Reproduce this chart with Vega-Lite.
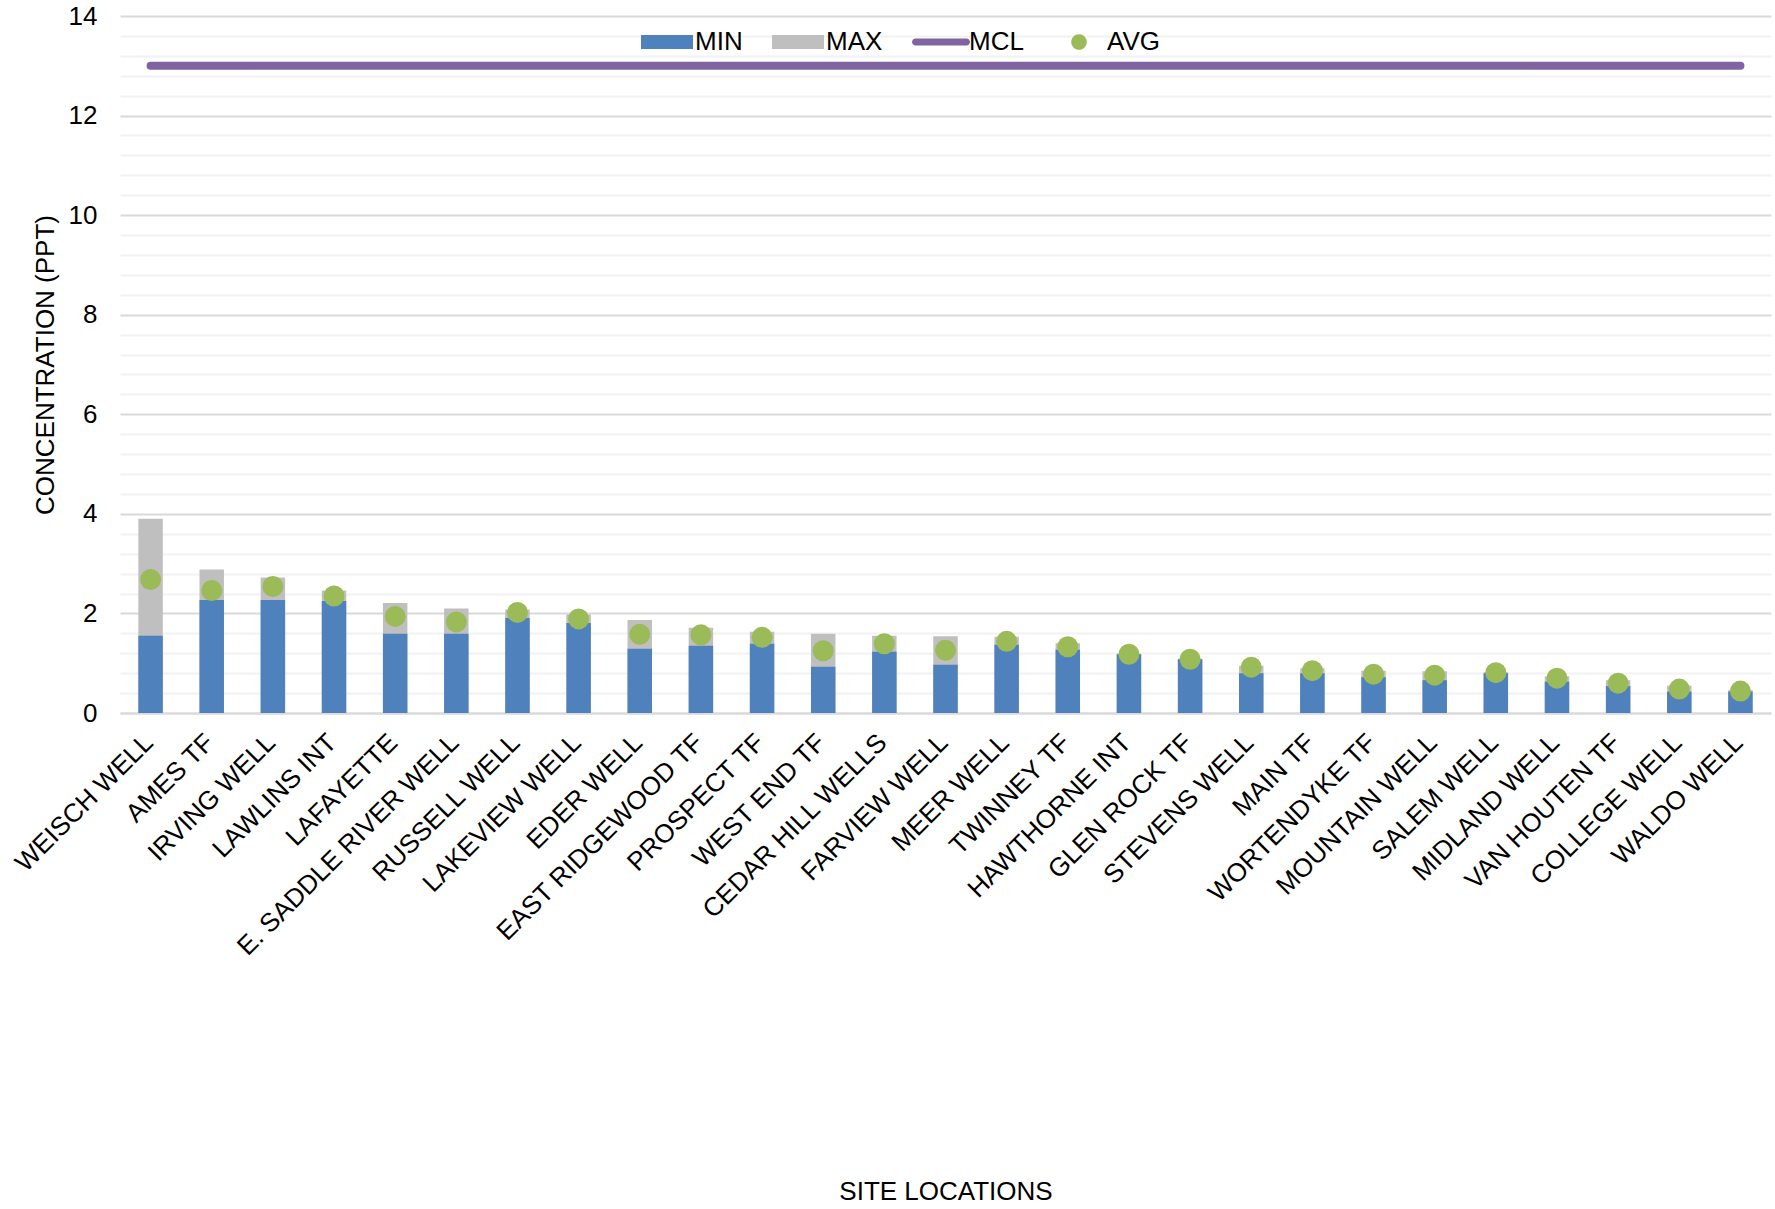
{
  "$schema": "https://vega.github.io/schema/vega-lite/v6.json",
  "width": 1651,
  "height": 697,
  "autosize": {"type": "none"},
  "padding": {"left": 120, "top": 16, "right": 4, "bottom": 496},
  "background": "white",
  "config": {
    "font": "Liberation Sans",
    "view": {"stroke": null}
  },
  "data": {
    "values": [
      {"site": "WEISCH WELL", "min": 1.55, "max": 3.90, "avg": 2.68, "mcl": 13},
      {"site": "AMES TF", "min": 2.27, "max": 2.88, "avg": 2.46, "mcl": 13},
      {"site": "IRVING WELL", "min": 2.27, "max": 2.72, "avg": 2.54, "mcl": 13},
      {"site": "LAWLINS INT", "min": 2.25, "max": 2.46, "avg": 2.35, "mcl": 13},
      {"site": "LAFAYETTE", "min": 1.59, "max": 2.21, "avg": 1.94, "mcl": 13},
      {"site": "E. SADDLE RIVER WELL", "min": 1.59, "max": 2.10, "avg": 1.83, "mcl": 13},
      {"site": "RUSSELL  WELL", "min": 1.91, "max": 2.08, "avg": 2.02, "mcl": 13},
      {"site": "LAKEVIEW WELL", "min": 1.81, "max": 1.98, "avg": 1.89, "mcl": 13},
      {"site": "EDER WELL", "min": 1.29, "max": 1.87, "avg": 1.58, "mcl": 13},
      {"site": "EAST RIDGEWOOD TF", "min": 1.35, "max": 1.71, "avg": 1.57, "mcl": 13},
      {"site": "PROSPECT TF", "min": 1.39, "max": 1.63, "avg": 1.52, "mcl": 13},
      {"site": "WEST END TF", "min": 0.93, "max": 1.59, "avg": 1.25, "mcl": 13},
      {"site": "CEDAR HILL WELLS", "min": 1.23, "max": 1.55, "avg": 1.39, "mcl": 13},
      {"site": "FARVIEW WELL", "min": 0.97, "max": 1.54, "avg": 1.26, "mcl": 13},
      {"site": "MEER WELL", "min": 1.37, "max": 1.53, "avg": 1.44, "mcl": 13},
      {"site": "TWINNEY TF", "min": 1.27, "max": 1.40, "avg": 1.33, "mcl": 13},
      {"site": "HAWTHORNE INT", "min": 1.18, "max": 1.19, "avg": 1.18, "mcl": 13},
      {"site": "GLEN ROCK TF", "min": 1.08, "max": 1.09, "avg": 1.08, "mcl": 13},
      {"site": "STEVENS WELL", "min": 0.80, "max": 0.95, "avg": 0.92, "mcl": 13},
      {"site": "MAIN TF", "min": 0.80, "max": 0.90, "avg": 0.85, "mcl": 13},
      {"site": "WORTENDYKE TF", "min": 0.72, "max": 0.85, "avg": 0.78, "mcl": 13},
      {"site": "MOUNTAIN WELL", "min": 0.66, "max": 0.84, "avg": 0.76, "mcl": 13},
      {"site": "SALEM WELL", "min": 0.80, "max": 0.82, "avg": 0.81, "mcl": 13},
      {"site": "MIDLAND WELL", "min": 0.63, "max": 0.74, "avg": 0.70, "mcl": 13},
      {"site": "VAN HOUTEN TF", "min": 0.54, "max": 0.66, "avg": 0.60, "mcl": 13},
      {"site": "COLLEGE WELL", "min": 0.43, "max": 0.55, "avg": 0.48, "mcl": 13},
      {"site": "WALDO WELL", "min": 0.43, "max": 0.46, "avg": 0.44, "mcl": 13}
    ]
  },
  "resolve": {"axis": {"y": "independent"}},
  "encoding": {
    "x": {
      "field": "site",
      "type": "nominal",
      "sort": null,
      "scale": {"paddingInner": 0.6, "paddingOuter": 0.3},
      "axis": {
        "title": "SITE LOCATIONS",
        "titleFontSize": 26,
        "titleFontWeight": "normal",
        "titleColor": "black",
        "titleY": 478,
        "titleBaseline": "middle",
        "labelAngle": -45,
        "labelFontSize": 26,
        "labelColor": "black",
        "labelLimit": 1000,
        "labelPadding": 16,
        "labelOffset": -11,
        "labelOverlap": false,
        "ticks": false,
        "grid": false,
        "domainColor": "#D9D9D9",
        "domainWidth": 2
      }
    }
  },
  "layer": [
    {
      "mark": {"type": "bar"},
      "encoding": {
        "y": {
          "field": "max",
          "type": "quantitative",
          "scale": {"domain": [0, 14], "nice": false},
          "axis": {
            "orient": "left",
            "title": "CONCENTRATION (PPT)",
            "titleFontSize": 26,
            "titleFontWeight": "normal",
            "titleColor": "black",
            "titleX": -75,
            "titleBaseline": "middle",
            "values": [0, 2, 4, 6, 8, 10, 12, 14],
            "labelOverlap": false,
            "labelFontSize": 26,
            "labelColor": "black",
            "labelPadding": 23,
            "domain": false,
            "ticks": false,
            "grid": true,
            "gridWidth": 2,
            "gridColor": "#D9D9D9"
          }
        },
        "color": {
          "datum": "MAX",
          "type": "nominal",
          "scale": {"domain": ["MIN", "MAX", "MCL", "AVG"], "range": ["#4F81BD", "#BFBFBF", "#8064A2", "#9BBB59"]},
          "legend": {
            "orient": "none",
            "legendX": 521,
            "legendY": 0,
            "direction": "horizontal",
            "gridAlign": "none",
            "title": null,
            "symbolSize": 2704,
            "symbolStrokeWidth": 0,
            "labelFontSize": 26,
            "labelColor": "black",
            "labelOffset": 2,
            "columnPadding": 29,
            "padding": 0,
            "symbolOpacity": 1,
            "encode": {
              "symbols": {
                "update": {
                  "size": {"value": 2704},
                  "shape": {"signal": "datum.value === 'MCL' ? 'M-0.98,-0.135H0.98A0.135,0.135,0,0,1,0.98,0.135H-0.98A0.135,0.135,0,0,1,-0.98,-0.135Z' : datum.value === 'AVG' ? 'M0.3,0A0.3,0.3,0,1,1,-0.3,0A0.3,0.3,0,1,1,0.3,0Z' : 'M-1,-0.27H1V0.27H-1Z'"},
                  "fill": {"signal": "scale('color', datum.value)"},
                  "strokeWidth": {"value": 0},
                  "opacity": {"value": 1}
                }
              }
            }
          }
        }
      }
    },
    {
      "mark": {"type": "bar"},
      "encoding": {
        "y": {
          "field": "min",
          "type": "quantitative",
          "axis": {
            "orient": "left",
            "title": null,
            "values": [0.4, 0.8, 1.2, 1.6, 2.4, 2.8, 3.2, 3.6, 4.4, 4.8, 5.2, 5.6, 6.4, 6.8, 7.2, 7.6, 8.4, 8.8, 9.2, 9.6, 10.4, 10.8, 11.2, 11.6, 12.4, 12.8, 13.2, 13.6],
            "labels": false,
            "domain": false,
            "ticks": false,
            "grid": true,
            "gridWidth": 2,
            "gridColor": "#F2F2F2"
          }
        },
        "color": {"datum": "MIN", "type": "nominal"}
      }
    },
    {
      "mark": {"type": "line", "strokeWidth": 8, "strokeCap": "round"},
      "encoding": {
        "y": {"field": "mcl", "type": "quantitative", "axis": null},
        "color": {"datum": "MCL", "type": "nominal"}
      }
    },
    {
      "mark": {"type": "point", "filled": true, "size": 441, "opacity": 1},
      "encoding": {
        "y": {"field": "avg", "type": "quantitative", "axis": null},
        "color": {"datum": "AVG", "type": "nominal"}
      }
    }
  ]
}
